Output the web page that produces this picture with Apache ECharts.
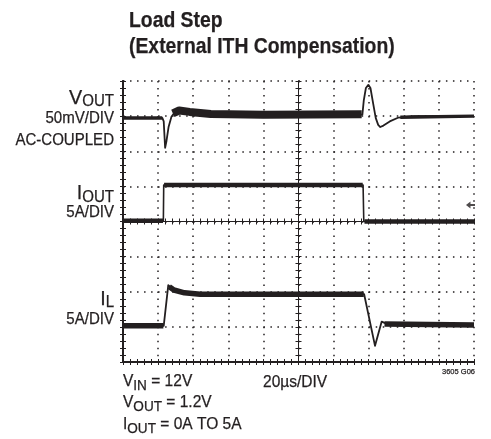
<!DOCTYPE html>
<html>
<head>
<meta charset="utf-8">
<script src="https://cdn.jsdelivr.net/npm/echarts@6/dist/echarts.min.js"></script>
<style>
  html, body { margin: 0; padding: 0; background: #fff; }
  #chart { width: 491px; height: 439px; }
</style>
</head>
<body>
<div id="chart"></div>
<script>
// scope screen: 10 x 8 divisions, values in divisions
var xDivs = [0, 10];
var yDivs = [0, 8];

// V_OUT trace (AC coupled)
var voutTrace = [[0, 6.95], [1.12, 6.95], [1.16, 6.85], [1.2, 6.1], [1.24, 6.3], [1.3, 6.7],
  [1.38, 6.98], [1.48, 7.12], [1.65, 7.17], [1.9, 7.12], [2.4, 7.06], [3.5, 7.04], [5, 7.05],
  [6.82, 7.04], [6.86, 7.45], [6.92, 7.8], [6.99, 7.89], [7.05, 7.8], [7.12, 7.4], [7.2, 6.95],
  [7.27, 6.75], [7.33, 6.69], [7.42, 6.73], [7.6, 6.85], [7.85, 6.96], [8.3, 7.0], [10, 7.0]];
var voutQuietBand = [[0, 6.95], [1.12, 6.95], null, [7.9, 6.97], [10, 7.0]];
var voutNoisyBand = [[1.42, 7.08], [1.6, 7.16], [1.9, 7.12], [2.5, 7.06], [4, 7.04], [6.8, 7.05]];

// I_OUT trace
var ioutTrace = [[0, 4.02], [1.15, 4.02], [1.16, 5.04], [6.84, 5.04], [6.86, 4.0], [10, 4.0]];
var ioutBand = [[0, 4.02], [1.14, 4.02], null, [1.17, 5.04], [6.83, 5.04], null, [6.88, 4.0], [10, 4.0]];

// I_L trace
var ilTrace = [[0, 1.03], [1.16, 1.03], [1.29, 2.19], [1.45, 2.06], [1.75, 1.97], [2.2, 1.93],
  [6.87, 1.93], [7.18, 0.46], [7.37, 1.15], [7.55, 1.07], [10, 1.05]];
var ilBand = [[0, 1.03], [1.15, 1.03], null, [1.32, 2.14], [1.45, 2.05], [1.75, 1.97], [2.2, 1.93],
  [6.86, 1.93], null, [7.45, 1.08], [10, 1.05]];

var groundMarker = [9.9, 4.47];

var INK = '#231f20';
var FONT = '"Liberation Sans", Arial, sans-serif';
var TITLE_SQUEEZE = 0.88;
var LABEL_SQUEEZE = 0.94;
var NOTE_SQUEEZE = 0.97;

var ctx = document.createElement('canvas').getContext('2d');
function textWidth(s, size, squeeze) {
  ctx.font = 'normal ' + size + 'px ' + FONT;
  return ctx.measureText(s).width * squeeze;
}

// text placed by its baseline, narrowed horizontally around its anchor
function txt(x, baseline, s, size, align, weight, squeeze) {
  return {
    type: 'text', x: x, y: baseline - 0.35 * size, scaleX: squeeze || LABEL_SQUEEZE, silent: true,
    style: { text: s, fill: INK, font: (weight || 'normal') + ' ' + size + 'px ' + FONT,
      align: align || 'left', verticalAlign: 'middle', stroke: INK, lineWidth: 0.25 }
  };
}

// right aligned letter + subscript (axis labels)
function labelRight(xRight, base, main, sub, mainSize, subSize, drop) {
  var ws = textWidth(sub, subSize, LABEL_SQUEEZE);
  return [txt(xRight - ws, base, main, mainSize, 'right'), txt(xRight, base + drop, sub, subSize, 'right')];
}

// left aligned letter + subscript + rest
function labelLeft(x, base, main, sub, rest, size, subSize, drop) {
  var q = NOTE_SQUEEZE;
  var wm = textWidth(main, size, q), ws = textWidth(sub, subSize, q);
  return [txt(x, base, main, size, 'left', 'normal', q), txt(x + wm, base + drop, sub, subSize, 'left', 'normal', q),
    txt(x + wm + ws, base, rest, size, 'left', 'normal', q)];
}

var graphics = [].concat(
  txt(129, 28.3, 'Load Step', 22, 'left', 'bold', TITLE_SQUEEZE),
  txt(129, 55, '(External ITH Compensation)', 22, 'left', 'bold', TITLE_SQUEEZE),
  labelRight(114, 105.5, 'V', 'OUT', 21, 16, 1.5),
  txt(114, 123.7, '50mV/DIV', 16, 'right'),
  txt(114, 145.7, 'AC-COUPLED', 16, 'right'),
  labelRight(114, 201, 'I', 'OUT', 21, 16, 2),
  txt(114, 217.7, '5A/DIV', 16, 'right'),
  labelRight(114, 306.7, 'I', 'L', 21, 16, 1),
  txt(114, 325, '5A/DIV', 16, 'right'),
  labelLeft(123, 387.3, 'V', 'IN', ' = 12V', 16, 14, 4),
  labelLeft(123, 408.3, 'V', 'OUT', ' = 1.2V', 16, 14, 4),
  labelLeft(123, 430, 'I', 'OUT', ' = 0A TO 5A', 16, 14, 4),
  txt(263, 388.3, '20\u00b5s/DIV', 16, 'left', 'normal', NOTE_SQUEEZE),
  txt(475, 374.3, '3605 G06', 8, 'right')
);

function frameAxis(pos, range, split) {
  return {
    type: 'value', position: pos, min: range[0], max: range[1], interval: 1,
    axisLine: { show: true, lineStyle: { color: INK, width: 1.8 } },
    axisTick: { show: true, inside: true, length: 3, lineStyle: { color: INK, width: 1 } },
    minorTick: { show: true, splitNumber: 5, length: 3, lineStyle: { color: INK, width: 1 } },
    axisLabel: { show: false },
    splitLine: { show: split, lineStyle: { color: INK, width: 1.5, type: [1.5, 5.52] } },
    minorSplitLine: { show: false }
  };
}

function centerAxis(pos, range, off, inside) {
  return {
    type: 'value', position: pos, offset: off, min: range[0], max: range[1], interval: 1,
    axisLine: { show: true, onZero: false, lineStyle: { color: INK, width: 1 } },
    axisTick: { show: true, inside: inside, length: 3, lineStyle: { color: INK, width: 1 } },
    minorTick: { show: true, splitNumber: 5, length: 3, lineStyle: { color: INK, width: 1 } },
    axisLabel: { show: false },
    splitLine: { show: false }
  };
}

function line(data, width) {
  return {
    type: 'line', data: data, xAxisIndex: 0, yAxisIndex: 0, symbol: 'none',
    connectNulls: false, animation: false,
    lineStyle: { color: INK, width: width, join: 'round' }
  };
}

var chart = echarts.init(document.getElementById('chart'), null, { renderer: 'canvas' });
chart.setOption({
  animation: false,
  backgroundColor: '#fff',
  grid: { left: 123, top: 81, width: 351, height: 281 },
  xAxis: [
    frameAxis('bottom', xDivs, true),
    frameAxis('top', xDivs, false),
    centerAxis('bottom', xDivs, -140.5, true),
    centerAxis('bottom', xDivs, -140.5, false)
  ],
  yAxis: [
    frameAxis('left', yDivs, true),
    frameAxis('right', yDivs, false),
    centerAxis('left', yDivs, -175.5, true),
    centerAxis('left', yDivs, -175.5, false)
  ],
  series: [
    line(voutTrace, 1.8),
    line(voutQuietBand, 3.5),
    line(voutNoisyBand, 8),
    line(ioutTrace, 1.6),
    line(ioutBand, 4.5),
    line(ilTrace, 1.8),
    line(ilBand, 5.5),
    {
      type: 'scatter', data: [groundMarker], symbol: 'path://M0,5 L6,0 L6,3.5 L12,3.5 L12,6.5 L6,6.5 L6,10 Z',
      symbolSize: [9, 7], itemStyle: { color: INK }, silent: true
    }
  ],
  graphic: graphics
});
</script>
</body>
</html>
